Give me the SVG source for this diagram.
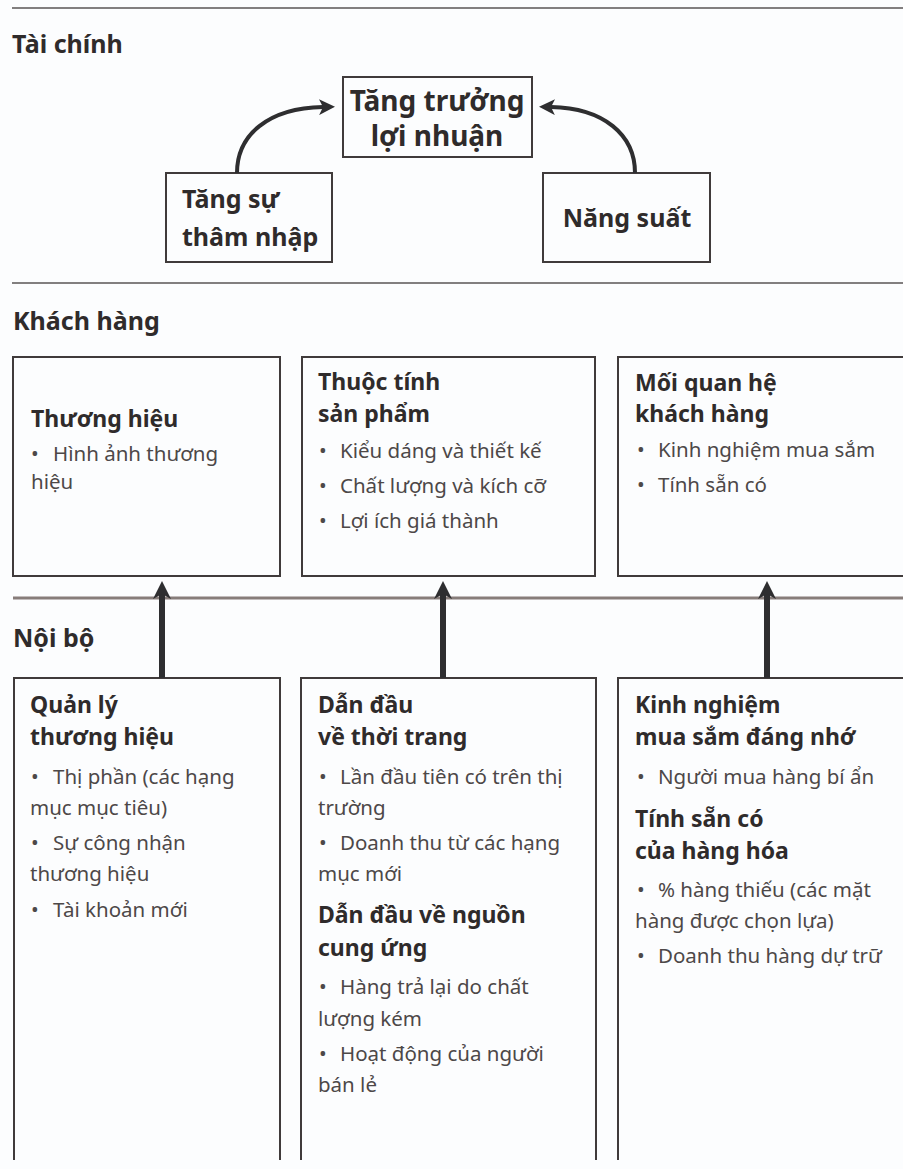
<svg xmlns="http://www.w3.org/2000/svg" width="903" height="1169" viewBox="0 0 903 1169">
  <style>
    .sec { font-family: "Noto Sans", "Liberation Sans", sans-serif; font-weight: 700; font-size: 25px; fill: #2f2b2b; }
    .fin { font-family: "Noto Sans", "Liberation Sans", sans-serif; font-weight: 700; fill: #2f2b2b; }
    .ttl { font-family: "Noto Sans", "Liberation Sans", sans-serif; font-weight: 700; font-size: 23px; fill: #2f2b2b; }
    .txt { font-family: "Noto Sans", "Liberation Sans", sans-serif; font-size: 20.5px; fill: #4d4848; }
    .box { fill: none; stroke: #403b3b; stroke-width: 2; }
    .rule { stroke: #5a5555; stroke-width: 1.6; }
    .rule2 { stroke: #877d7a; stroke-width: 3; }
    .conn { fill: none; stroke: #2e2e30; }
  </style>
  <defs>
    <marker id="head" markerUnits="userSpaceOnUse" viewBox="0 0 18 18" markerWidth="18" markerHeight="18" refX="5" refY="9" orient="auto">
      <path d="M0,0 L18,9 L0,18 L5,9 z" fill="#2e2e30"/>
    </marker>
    <marker id="headc" markerUnits="userSpaceOnUse" viewBox="0 0 16 16" markerWidth="16" markerHeight="16" refX="4" refY="8" orient="auto">
      <path d="M0,0 L16,8 L0,16 L4,8 z" fill="#2e2e30"/>
    </marker>
  </defs>

  <rect width="903" height="1169" fill="#fcfdfe"/>

  <!-- section rules and labels -->
  <g id="sections">
    <line class="rule" x1="12" y1="8" x2="903" y2="8"/>
    <text class="sec" x="12" y="53">Tài chính</text>
    <line class="rule" x1="12" y1="283" x2="903" y2="283"/>
    <text class="sec" x="13" y="330">Khách hàng</text>
    <line class="rule2" x1="13" y1="598" x2="903" y2="598"/>
    <text class="sec" x="13" y="647">Nội bộ</text>
  </g>

  <!-- financial perspective -->
  <g id="n-tang-truong">
    <rect class="box" x="343" y="77" width="189" height="80"/>
    <text class="fin" font-size="28" text-anchor="middle" x="437" y="111">Tăng trưởng</text>
    <text class="fin" font-size="28" text-anchor="middle" x="437" y="146">lợi nhuận</text>
  </g>
  <g id="n-tham-nhap">
    <rect class="box" x="166" y="173" width="166" height="89"/>
    <text class="fin" font-size="25" x="182" y="208">Tăng sự</text>
    <text class="fin" font-size="25" x="182" y="246">thâm nhập</text>
  </g>
  <g id="n-nang-suat">
    <rect class="box" x="543" y="173" width="167" height="89"/>
    <text class="fin" font-size="25" text-anchor="middle" x="627" y="227">Năng suất</text>
  </g>

  <!-- customer perspective -->
  <g id="n-thuong-hieu">
    <rect class="box" x="13" y="357" width="267" height="219"/>
    <text class="ttl" x="31" y="427">Thương hiệu</text>
    <text class="txt" x="31" y="461">•<tspan x="53">Hình ảnh thương</tspan></text>
    <text class="txt" x="31" y="489">hiệu</text>
  </g>
  <g id="n-thuoc-tinh">
    <rect class="box" x="302" y="357" width="293" height="219"/>
    <text class="ttl" x="318" y="390">Thuộc tính</text>
    <text class="ttl" x="318" y="422">sản phẩm</text>
    <text class="txt" x="319" y="458">•<tspan x="340">Kiểu dáng và thiết kế</tspan></text>
    <text class="txt" x="319" y="493">•<tspan x="340">Chất lượng và kích cỡ</tspan></text>
    <text class="txt" x="319" y="528">•<tspan x="340">Lợi ích giá thành</tspan></text>
  </g>
  <g id="n-quan-he">
    <path class="box" d="M904,357 H618 V576 H904"/>
    <text class="ttl" x="635" y="391">Mối quan hệ</text>
    <text class="ttl" x="635" y="422">khách hàng</text>
    <text class="txt" x="637" y="457">•<tspan x="658">Kinh nghiệm mua sắm</tspan></text>
    <text class="txt" x="637" y="492">•<tspan x="658">Tính sẵn có</tspan></text>
  </g>

  <!-- internal perspective -->
  <g id="n-quan-ly">
    <path class="box" d="M14,1160 V678 H280 V1160"/>
    <text class="ttl" x="30" y="713">Quản lý</text>
    <text class="ttl" x="30" y="745">thương hiệu</text>
    <text class="txt" x="31" y="784">•<tspan x="53">Thị phần (các hạng</tspan></text>
    <text class="txt" x="30" y="815">mục mục tiêu)</text>
    <text class="txt" x="31" y="850">•<tspan x="53">Sự công nhận</tspan></text>
    <text class="txt" x="30" y="881">thương hiệu</text>
    <text class="txt" x="31" y="917">•<tspan x="53">Tài khoản mới</tspan></text>
  </g>
  <g id="n-dan-dau">
    <path class="box" d="M301,1160 V678 H596 V1160"/>
    <text class="ttl" x="318" y="713">Dẫn đầu</text>
    <text class="ttl" x="318" y="745">về thời trang</text>
    <text class="txt" x="319" y="784">•<tspan x="340">Lần đầu tiên có trên thị</tspan></text>
    <text class="txt" x="318" y="815">trường</text>
    <text class="txt" x="319" y="850">•<tspan x="340">Doanh thu từ các hạng</tspan></text>
    <text class="txt" x="318" y="881">mục mới</text>
    <text class="ttl" x="318" y="923">Dẫn đầu về nguồn</text>
    <text class="ttl" x="318" y="956">cung ứng</text>
    <text class="txt" x="319" y="994">•<tspan x="340">Hàng trả lại do chất</tspan></text>
    <text class="txt" x="318" y="1026">lượng kém</text>
    <text class="txt" x="319" y="1061">•<tspan x="340">Hoạt động của người</tspan></text>
    <text class="txt" x="318" y="1092">bán lẻ</text>
  </g>
  <g id="n-kinh-nghiem">
    <path class="box" d="M618,1160 V678 H904"/>
    <text class="ttl" x="635" y="713">Kinh nghiệm</text>
    <text class="ttl" x="635" y="745">mua sắm đáng nhớ</text>
    <text class="txt" x="637" y="784">•<tspan x="658">Người mua hàng bí ẩn</tspan></text>
    <text class="ttl" x="635" y="827">Tính sẵn có</text>
    <text class="ttl" x="635" y="859">của hàng hóa</text>
    <text class="txt" x="637" y="897">•<tspan x="658">% hàng thiếu (các mặt</tspan></text>
    <text class="txt" x="635" y="928">hàng được chọn lựa)</text>
    <text class="txt" x="637" y="963">•<tspan x="658">Doanh thu hàng dự trữ</tspan></text>
  </g>

  <!-- connectors -->
  <g id="connectors">
    <path class="conn" stroke-width="4" d="M237,173 C237,135 268,108 323,107" marker-end="url(#headc)"/>
    <path class="conn" stroke-width="4" d="M635,173 C635,135 604,108 551,107" marker-end="url(#headc)"/>
    <line class="conn" stroke-width="6" x1="162" y1="678" x2="162" y2="594" marker-end="url(#head)"/>
    <line class="conn" stroke-width="6" x1="443" y1="678" x2="443" y2="594" marker-end="url(#head)"/>
    <line class="conn" stroke-width="6" x1="767" y1="678" x2="767" y2="594" marker-end="url(#head)"/>
  </g>
</svg>
